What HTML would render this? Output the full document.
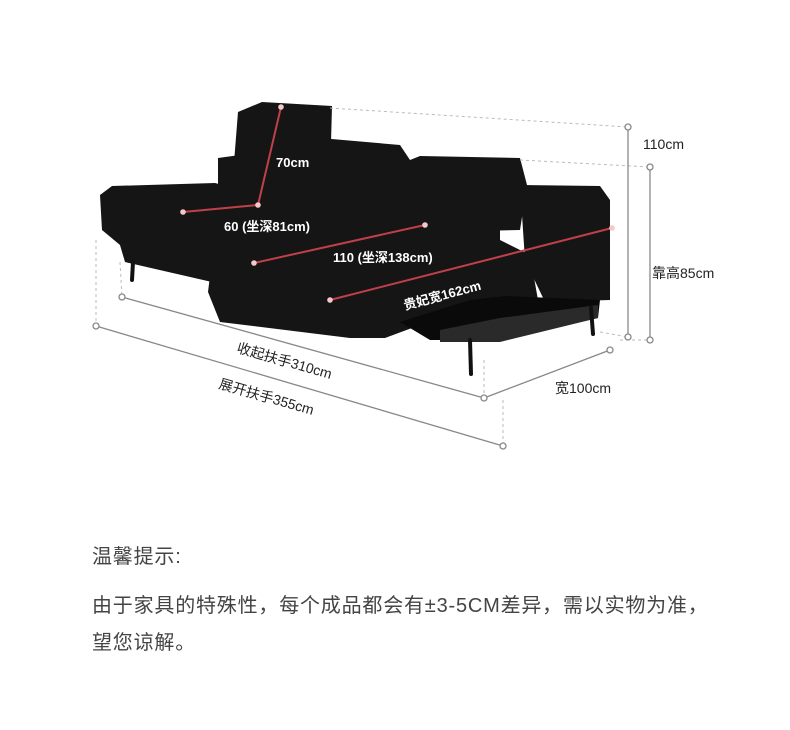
<!DOCTYPE html>
<html><head><meta charset="utf-8"><style>
body{margin:0;background:#fff;}
.w{position:relative;width:790px;height:730px;overflow:hidden;background:#fff;font-family:"Liberation Sans","Noto Sans CJK SC",sans-serif;}
.t{position:absolute;left:92px;color:#444;font-size:20px;letter-spacing:0.8px;white-space:nowrap;}
</style></head><body><div class="w">
<svg width="790" height="730" style="position:absolute;left:0;top:0" font-family="Liberation Sans, Noto Sans CJK SC, sans-serif">
<g fill="#151515">
<polygon points="238,112 262,102 332,106 330,180 300,188 232,188"/>
<polygon points="300,150 320,138 400,145 410,160 420,156 520,158 527,185 520,230 300,235"/>
<polygon points="218,158 240,155 260,158 262,200 218,205"/>
<polygon points="255,180 310,180 310,215 255,215"/>
<polygon points="100,195 112,186 215,183 260,195 360,212 390,232 400,245 380,255 230,255 135,250 120,245 102,230"/>
<polygon points="520,185 600,186 610,200 610,300 545,302 525,260"/>
<polygon points="212,260 245,245 300,238 360,230 400,185 440,178 500,185 500,240 530,255 538,300 460,315 420,325 385,338 350,338 220,322 208,292"/>
<polygon points="120,245 225,245 225,285 125,262"/>
</g>
<polygon points="400,322 470,300 505,296 600,300 598,318 500,340 430,340" fill="#0a0a0a"/>
<polygon points="440,330 500,318 598,305 598,318 500,342 440,342" fill="#2a2a2a"/>
<g stroke="#111" stroke-width="4" stroke-linecap="round">
<line x1="133" y1="262" x2="132" y2="280"/><line x1="470" y1="340" x2="471" y2="374"/><line x1="591" y1="308" x2="593" y2="334"/>
</g>
<g stroke="#bbb" stroke-width="1" stroke-dasharray="3,3" fill="none">
<line x1="330" y1="108" x2="628" y2="127"/><line x1="520" y1="160" x2="650" y2="167"/>
<line x1="96" y1="240" x2="96" y2="326"/><line x1="120" y1="262" x2="122" y2="297"/>
<line x1="484" y1="360" x2="484" y2="398"/><line x1="503" y1="400" x2="503" y2="446"/>
<line x1="600" y1="332" x2="628" y2="337"/><line x1="620" y1="340" x2="650" y2="340"/>
</g>
<g stroke="#888" stroke-width="1.3" fill="#fff">
<line x1="628" y1="127" x2="628" y2="337"/><line x1="650" y1="167" x2="650" y2="340"/>
<line x1="484" y1="398" x2="610" y2="350"/><line x1="122" y1="297" x2="484" y2="398"/><line x1="96" y1="326" x2="503" y2="446"/>
<circle cx="628" cy="127" r="3"/><circle cx="628" cy="337" r="3"/><circle cx="650" cy="167" r="3"/><circle cx="650" cy="340" r="3"/>
<circle cx="484" cy="398" r="3"/><circle cx="610" cy="350" r="3"/><circle cx="122" cy="297" r="3"/><circle cx="96" cy="326" r="3"/><circle cx="503" cy="446" r="3"/>
</g>
<g stroke="#c0404a" stroke-width="2">
<line x1="281" y1="107" x2="258" y2="205"/><line x1="183" y1="212" x2="258" y2="205"/>
<line x1="254" y1="263" x2="425" y2="225"/><line x1="330" y1="300" x2="612" y2="228"/>
</g>
<g fill="#f3c8cc"><circle cx="281" cy="107" r="2.8"/><circle cx="258" cy="205" r="2.8"/><circle cx="183" cy="212" r="2.8"/><circle cx="254" cy="263" r="2.8"/><circle cx="425" cy="225" r="2.8"/><circle cx="330" cy="300" r="2.8"/><circle cx="612" cy="228" r="2.8"/></g>
<g fill="#fff" font-size="13" font-weight="bold">
<text x="276" y="167">70cm</text>
<text x="224" y="231">60 (坐深81cm)</text>
<text x="333" y="262">110 (坐深138cm)</text>
<text x="0" y="0" transform="translate(405,310) rotate(-15)">贵妃宽162cm</text>
</g>
<g fill="#222" font-size="14">
<text x="643" y="149">110cm</text>
<text x="652" y="278">靠高85cm</text>
<text x="555" y="393">宽100cm</text>
<text transform="translate(236,352) rotate(16)">收起扶手310cm</text>
<text transform="translate(218,388) rotate(16)">展开扶手355cm</text>
</g>
</svg>
<div class="t" style="top:540px">温馨提示:</div>
<div class="t" style="top:589px">由于家具的特殊性，每个成品都会有±3-5CM差异，需以实物为准，</div>
<div class="t" style="top:626px">望您谅解。</div>
</div></body></html>
